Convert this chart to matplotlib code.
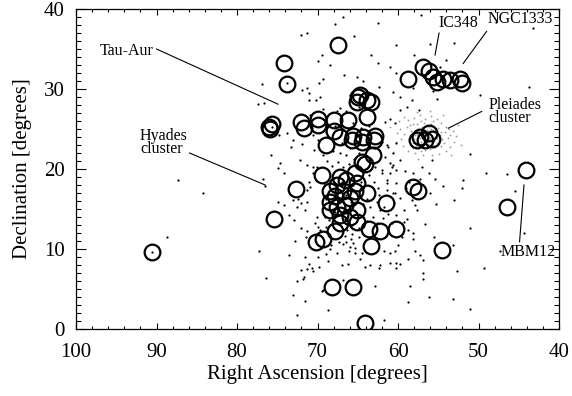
import matplotlib
matplotlib.use("Agg")
import matplotlib.pyplot as plt
from matplotlib.ticker import MultipleLocator

plt.rcParams["font.family"] = ["Liberation Serif", "DejaVu Serif"]

# ── Data (RA, Dec in degrees) ─────────────────────────────────────────────────
circle_ra = [90.5, 74.2, 73.8, 67.5, 75.9, 75.6, 76.0, 72.0, 71.7, 69.9, 70.0,
             68.0, 68.0, 66.2, 65.0, 64.7, 65.1, 63.9, 63.3, 63.8, 67.2, 65.55,
             64.3, 62.9, 68.9, 65.75, 64.5, 63.0, 63.1, 64.5, 64.1, 69.5, 67.2,
             66.4, 65.3, 65.1, 67.6, 68.4, 66.8, 65.3, 63.9, 72.7, 61.5, 68.4,
             67.6, 66.6, 65.1, 68.4, 67.2, 66.0, 67.2, 65.1, 75.4, 63.6, 62.2,
             60.2, 70.2, 69.3, 67.8, 63.3, 68.2, 65.55, 64.1, 58.7, 56.85, 56.2,
             55.6, 54.4, 53.5, 52.3, 52.0, 55.2, 57.3, 56.2, 55.8, 56.6, 57.7,
             58.1, 57.5, 54.5, 46.4, 44.1, 67.8, 66.0]
circle_dec = [9.6, 33.3, 30.6, 35.5, 25.0, 25.6, 25.3, 25.9, 25.1, 26.3, 25.5,
              26.1, 24.7, 26.1, 29.0, 29.25, 28.4, 28.6, 28.4, 26.5, 24.0, 24.1,
              24.0, 24.1, 23.0, 23.6, 23.4, 23.6, 21.75, 20.9, 20.6, 19.25, 19.0,
              18.6, 19.5, 18.2, 18.0, 17.2, 17.2, 17.2, 17.0, 17.5, 15.7, 15.9,
              15.3, 15.5, 14.9, 14.9, 14.25, 14.0, 13.2, 13.4, 13.8, 12.5, 12.3,
              12.5, 10.9, 11.3, 12.2, 10.4, 5.3, 5.3, 0.7, 31.2, 32.8, 32.2,
              31.5, 31.2, 31.1, 31.3, 30.7, 30.9, 24.0, 24.5, 23.8, 23.6, 23.6,
              17.8, 17.3, 9.9, 15.3, 19.9, 16.6, 16.4]

star_ra = [72.0, 76.9, 77.4, 76.7, 73.8, 73.1, 73.3, 71.9, 71.9, 71.1, 75.8,
           74.7, 74.9, 74.2, 72.2, 71.3, 76.8, 76.5, 87.3, 84.2, 71.1, 70.9,
           71.3, 70.6, 70.5, 88.7, 90.5, 77.3, 73.5, 76.4, 73.1, 72.5, 71.6,
           72.5, 71.8, 71.6, 71.1, 71.3, 72.0, 72.8, 73.6, 72.9, 72.0, 71.3,
           71.4, 74.9, 74.2, 73.0, 72.6, 72.0, 71.6, 72.4, 71.3, 70.7, 71.7,
           70.5, 69.8, 68.7, 68.3, 70.3, 69.7, 68.9, 68.4, 66.8, 66.4, 65.9,
           65.55, 65.3, 66.1, 65.4, 64.5, 66.6, 65.75, 64.9, 67.0, 66.2, 64.1,
           62.2, 61.0, 60.2, 68.7, 69.5, 69.3, 66.8, 62.8, 61.7, 61.8, 61.0,
           60.4, 60.0, 54.4, 53.0, 51.0, 52.7, 49.3, 51.0, 53.2, 56.1, 58.7,
           58.5, 56.9, 57.9, 57.3, 56.9, 58.8, 59.75, 60.2, 62.4, 53.2, 58.1,
           59.5, 60.2, 59.3, 57.9, 57.7, 58.3, 45.5, 44.4, 47.3, 62.4, 61.8,
           61.2, 67.6, 66.0, 64.7, 63.5, 51.1, 49.1, 46.5, 55.4, 56.9, 55.8,
           56.2, 57.3, 58.1, 59.75, 59.1, 60.6, 61.0, 61.4, 60.2, 60.4, 59.3,
           58.9, 58.1, 58.7, 66.8, 62.45, 57.1, 53.1, 47.8, 43.2, 43.7, 55.2,
           55.6, 69.4, 69.9, 63.4, 62.5, 61.0, 58.1, 59.75, 71.3, 71.1, 69.7,
           61.0, 60.4, 59.75, 58.9, 62.0, 61.2, 61.6, 62.9, 62.0, 60.8, 60.2,
           52.1, 51.9, 54.8, 54.0, 71.3, 49.8, 67.8, 60.2, 65.1, 69.8, 69.3,
           70.2, 67.2, 67.6, 66.4, 61.6, 70.1, 69.3, 67.2, 66.4, 61.4, 60.6,
           60.2, 61.0, 62.0, 61.4, 60.6, 61.4, 62.65, 62.2, 63.1, 63.5, 70.1,
           69.9, 69.1, 68.2, 67.5, 66.8, 66.1, 65.5, 64.9, 66.0, 67.0, 68.1,
           68.8, 69.2, 68.9, 68.0, 67.3, 66.5, 65.8, 65.0, 64.4, 63.8, 64.6,
           63.6, 64.1, 65.6, 66.9, 68.0, 67.8, 66.6, 65.7, 64.8, 66.3, 68.6,
           63.0, 62.5, 62.8, 63.6, 64.6, 65.6, 66.8, 67.8, 69.0, 70.6, 70.9,
           69.3, 66.0, 64.8, 74.8, 75.7, 73.8, 70.0, 70.4, 68.5, 67.3, 69.0,
           70.0, 63.9, 62.6, 61.9, 60.8, 60.5, 59.8, 59.0, 58.6, 57.0, 56.0,
           55.3, 56.7, 55.5, 57.4, 58.3, 60.6, 62.4, 64.3, 66.7, 68.5, 65.5,
           60.2, 58.0, 56.0]
star_dec = [36.8, 30.6, 28.1, 28.2, 24.5, 23.6, 22.8, 23.1, 29.9, 29.5, 21.7,
            20.8, 20.1, 19.5, 21.1, 20.5, 18.7, 17.9, 18.6, 17.0, 18.4, 17.8,
            17.4, 20.3, 19.5, 11.5, 9.6, 9.8, 9.2, 6.4, 4.2, 1.75, 3.5,
            6.0, 6.3, 9.0, 8.1, 7.5, 7.4, 11.0, 14.2, 13.6, 12.6, 12.2,
            11.5, 15.9, 15.5, 16.1, 15.3, 15.7, 14.9, 16.3, 15.9, 7.6, 6.5,
            7.2, 7.8, 8.5, 10.5, 13.2, 12.4, 12.8, 11.5, 10.6, 10.9, 11.3,
            10.7, 10.1, 9.7, 9.5, 9.5, 11.6, 11.9, 11.5, 8.0, 8.1, 7.8,
            8.0, 8.2, 8.3, 2.4, 4.7, 4.9, 6.1, 5.4, 1.1, 9.7, 9.5,
            9.8, 10.5, 17.9, 16.1, 12.6, 7.2, 7.6, 2.5, 3.8, 4.0, 3.4,
            5.4, 6.2, 9.8, 9.25, 8.6, 8.7, 8.1, 7.6, 7.6, 10.5, 12.0,
            11.5, 14.25, 13.4, 15.5, 14.9, 16.1, 17.2, 12.0, 9.7, 16.75, 15.3,
            14.4, 9.5, 10.3, 8.8, 8.0, 21.9, 19.5, 19.4, 18.8, 7.0, 21.1,
            19.5, 18.8, 19.5, 21.1, 19.7, 20.5, 19.5, 18.2, 18.2, 17.0, 14.9,
            13.8, 11.2, 12.4, 39.0, 38.2, 39.25, 35.8, 38.4, 37.6, 30.2, 28.8,
            29.7, 34.2, 33.5, 34.3, 33.3, 32.8, 30.1, 29.0, 30.1, 28.6, 29.0,
            26.3, 25.7, 27.4, 27.8, 23.4, 22.8, 21.5, 20.3, 19.5, 20.3, 19.9,
            17.6, 18.6, 32.8, 33.6, 37.0, 29.25, 38.1, 32.0, 31.5, 30.7, 31.3,
            28.6, 27.6, 27.2, 27.2, 25.9, 20.3, 21.75, 22.0, 21.75, 23.0, 22.0,
            23.2, 20.7, 19.9, 18.6, 17.0, 17.4, 15.9, 14.9, 14.0, 15.3, 14.0,
            12.8, 14.0, 20.4, 20.9, 20.2, 20.6, 21.2, 22.0, 22.6, 23.2, 22.3,
            21.0, 18.3, 16.3, 16.8, 16.2, 16.8, 15.9, 16.3, 15.6, 16.2, 18.4,
            19.2, 19.8, 18.0, 18.4, 18.9, 14.6, 13.8, 13.0, 12.6, 12.4, 13.6,
            18.4, 17.6, 22.6, 25.4, 25.1, 25.8, 25.0, 25.4, 24.6, 24.3, 26.8,
            27.5, 29.3, 27.8, 24.2, 25.3, 30.8, 23.6, 22.4, 10.0, 10.9, 9.4,
            9.0, 13.5, 13.3, 13.9, 13.2, 15.7, 16.4, 17.6, 18.4, 20.2, 17.0,
            15.6, 13.1, 11.5, 27.4, 28.6, 29.6, 30.2, 31.0, 31.8, 33.0, 36.6,
            35.5, 34.2, 35.6]

pleiades_ra = [58.9, 58.4, 58.1, 57.9, 57.6, 57.4, 57.2, 57.0, 56.8, 56.5, 56.2,
               55.9, 55.6, 55.3, 55.0, 54.8, 54.5, 54.2, 53.8, 53.5, 58.6, 58.2,
               57.8, 57.5, 57.1, 56.7, 56.3, 56.0, 55.7, 55.4, 55.1, 54.7, 54.3,
               59.3, 59.6, 59.8, 60.1, 58.7, 58.0, 57.3, 56.6, 55.9, 55.2, 54.6,
               54.1, 53.7, 53.2, 52.8, 53.0, 53.6, 54.0, 54.9, 55.8, 56.9, 57.9,
               58.8, 59.4, 60.3, 59.9, 59.2, 57.7, 56.0, 54.4, 52.5, 52.2, 53.4,
               57.5, 60.6, 61.0, 58.0, 57.7, 57.3, 56.9, 56.4, 56.1, 55.8, 55.5,
               55.2, 56.6, 57.0, 58.4, 54.6, 55.6, 57.2, 58.5, 57.5, 56.3, 55.4,
               56.9, 55.9, 57.9, 54.9, 56.5, 57.6, 55.1, 58.2, 56.0, 57.1, 55.7]
pleiades_dec = [25.2, 24.8, 25.6, 24.2, 25.0, 24.6, 23.4, 25.3, 25.8, 25.5, 25.2,
                25.6, 24.9, 24.5, 25.1, 24.2, 23.8, 24.6, 23.9, 24.3, 23.6, 23.2,
                22.9, 22.6, 22.9, 22.4, 22.8, 22.5, 23.0, 22.7, 23.3, 22.9, 23.2,
                24.4, 23.8, 25.0, 24.5, 26.1, 26.4, 26.7, 26.3, 26.6, 26.2, 25.7,
                25.3, 25.0, 24.8, 24.1, 23.4, 22.8, 22.3, 21.9, 21.8, 21.7, 22.0,
                22.3, 22.9, 23.4, 26.0, 26.5, 27.1, 27.2, 26.8, 25.5, 23.0, 21.8,
                21.2, 22.1, 25.2, 23.8, 24.4, 23.9, 24.8, 24.9, 24.4, 23.7, 23.5,
                23.9, 23.4, 23.0, 24.0, 24.6, 26.0, 26.0, 25.5, 24.2, 23.1, 24.0,
                24.3, 25.0, 23.3, 23.6, 24.6, 25.6, 24.8, 22.6, 23.9, 22.3, 25.4]

# label text, text anchor (RA, Dec), connector line start and end (RA, Dec)
labels = [
    ("Tau-Aur",           (97.0, 34.8),  (90.0, 35.0), (74.9, 28.1)),
    ("Hyades\ncluster",   (92.05, 23.3), (85.9, 22.0), (76.5, 18.0)),
    ("IC348",             (55.0, 38.2),  (54.9, 37.0), (55.4, 34.25)),
    ("NGC1333",           (48.9, 38.8),  (49.0, 37.2), (51.9, 33.2)),
    ("Pleiades\ncluster", (48.8, 27.2),  (49.6, 27.2), (53.75, 25.1)),
    ("MBM12",             (47.3, 9.6),   (44.9, 10.9), (44.35, 18.0)),
]

# ── Figure ────────────────────────────────────────────────────────────────────
fig = plt.figure(figsize=(5.72, 3.96), dpi=100)
ax = fig.add_axes([0.1329, 0.1692, 0.8444, 0.808])

ax.plot(pleiades_ra, pleiades_dec, "o", ms=1.3, mew=0, color="#9a9a9a")
ax.plot(star_ra, star_dec, "o", ms=1.6, mew=0, color="black")
ax.plot(circle_ra, circle_dec, "o", ms=11.3, mfc="none", mec="black",
        mew=1.6)

for text, (tx, ty), p0, p1 in labels:
    ax.text(tx, ty, text, fontsize=11.5, ha="left", va="center",
            linespacing=0.72)
    ax.plot([p0[0], p1[0]], [p0[1], p1[1]], color="black", lw=0.8)

ax.set_xlim(100, 40)
ax.set_ylim(0, 40)
ax.xaxis.set_major_locator(MultipleLocator(10))
ax.xaxis.set_minor_locator(MultipleLocator(2))
ax.yaxis.set_major_locator(MultipleLocator(10))
ax.yaxis.set_minor_locator(MultipleLocator(1))
ax.tick_params(axis="both", which="both", direction="in",
               top=True, right=True, width=0.8, labelsize=15)
ax.tick_params(axis="x", which="major", length=4.5, pad=10)
ax.tick_params(axis="x", which="minor", length=2.2)
ax.tick_params(axis="y", which="major", length=7, pad=8)
ax.tick_params(axis="y", which="minor", length=3.5)
for sp in ax.spines.values():
    sp.set_linewidth(0.9)

ax.set_xlabel("Right Ascension [degrees]", fontsize=15, labelpad=2)
ax.set_ylabel("Declination [degrees]", fontsize=15, labelpad=9)

fig.savefig("out.png", dpi=100)
